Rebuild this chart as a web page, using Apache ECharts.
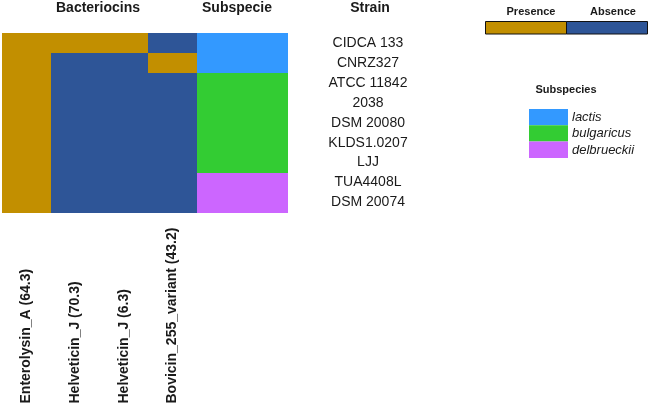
<!DOCTYPE html>
<html><head><meta charset="utf-8">
<script src="https://cdn.jsdelivr.net/npm/echarts@6/dist/echarts.min.js"></script>
<style>html,body{margin:0;padding:0;background:#fff}#c{width:650px;height:407px}</style>
</head><body><div id="c"></div>
<script>
// ---- data ----
var strains = ['CIDCA 133','CNRZ327','ATCC 11842','2038','DSM 20080','KLDS1.0207','LJJ','TUA4408L','DSM 20074'];
var bacteriocins = ['Enterolysin_A (64.3)','Helveticin_J (70.3)','Helveticin_J (6.3)','Bovicin_255_variant (43.2)'];
// presence (1) / absence (0), one array per bacteriocin, in strain order
var enterolysinA = [1,1,1,1,1,1,1,1,1];
var helveticin703 = [1,0,0,0,0,0,0,0,0];
var helveticin63 = [1,0,0,0,0,0,0,0,0];
var bovicin = [0,1,0,0,0,0,0,0,0];
var presenceLabels = ['Presence','Absence'];
var subspeciesNames = ['lactis','bulgaricus','delbrueckii'];
var strainSubspecies = ['lactis','lactis','bulgaricus','bulgaricus','bulgaricus','bulgaricus','bulgaricus','delbrueckii','delbrueckii'];
var subspecieColumn = ['Subspecie'];

// ---- styles ----
var PRES = '#C28F00', ABS = '#2E5597';
var subColors = ['#3399FF','#33CC33','#CC66FF'];
var FONT = 'Liberation Sans, Arial, sans-serif';

var presMatrix = [enterolysinA, helveticin703, helveticin63, bovicin];
var bacData = [];
presMatrix.forEach(function(col, xi){ col.forEach(function(v, yi){ bacData.push([xi, yi, v]); }); });
var subData = strainSubspecies.map(function(s, yi){ return [0, yi, subspeciesNames.indexOf(s)]; });

function cellRender(params, api){
  var c = api.coord([api.value(0), api.value(1)]);
  var s = api.size([1, 1]);
  var x0 = Math.round(c[0]-s[0]/2), x1 = Math.round(c[0]+s[0]/2);
  var y0 = Math.round(c[1]-s[1]/2), y1 = Math.round(c[1]+s[1]/2);
  return {type:'rect', shape:{x:x0, y:y0, width:x1-x0, height:y1-y0},
          style:{fill:api.visual('color')}};
}

var gridTop = 33, gridH = 179.5;
var gfx = [
  {type:'text', x:98, y:8, style:{text:'Bacteriocins', font:'bold 14px '+FONT, fill:'#1a1a1a', textAlign:'center', textVerticalAlign:'middle'}},
  {type:'text', x:237, y:8, style:{text:'Subspecie', font:'bold 14px '+FONT, fill:'#1a1a1a', textAlign:'center', textVerticalAlign:'middle'}},
  {type:'text', x:370, y:8, style:{text:'Strain', font:'bold 14px '+FONT, fill:'#1a1a1a', textAlign:'center', textVerticalAlign:'middle'}},
  {type:'text', x:531, y:12, style:{text:presenceLabels[0], font:'bold 11px '+FONT, fill:'#1a1a1a', textAlign:'center', textVerticalAlign:'middle'}},
  {type:'text', x:613, y:12, style:{text:presenceLabels[1], font:'bold 11px '+FONT, fill:'#1a1a1a', textAlign:'center', textVerticalAlign:'middle'}},
  {type:'rect', shape:{x:485.5, y:21.5, width:81, height:12.5}, style:{fill:PRES, stroke:'#111', lineWidth:1}},
  {type:'rect', shape:{x:566.5, y:21.5, width:81, height:12.5}, style:{fill:ABS, stroke:'#111', lineWidth:1}},
  {type:'text', x:566, y:90, style:{text:'Subspecies', font:'bold 11px '+FONT, fill:'#1a1a1a', textAlign:'center', textVerticalAlign:'middle'}}
];
subspeciesNames.forEach(function(n, i){
  gfx.push({type:'rect', shape:{x:529, y:109+i*16.3, width:39, height:16.3}, style:{fill:subColors[i]}});
  gfx.push({type:'text', x:572, y:109+i*16.3+8.5, style:{text:n, font:'italic 13px '+FONT, fill:'#1a1a1a', textAlign:'left', textVerticalAlign:'middle'}});
});

var chart = echarts.init(document.getElementById('c'), null, {renderer:'canvas'});
chart.setOption({
  backgroundColor:'#fff',
  animation:false,
  grid:[
    {left:2, top:gridTop, width:195, height:gridH},
    {left:197, top:gridTop, width:91, height:gridH}
  ],
  xAxis:[
    {type:'category', gridIndex:0, data:bacteriocins, axisLine:{show:false}, axisTick:{show:false}, splitLine:{show:false},
     axisLabel:{rotate:90, align:'left', margin:191, fontFamily:FONT, fontSize:14, fontWeight:'bold', color:'#1a1a1a', interval:0}},
    {type:'category', gridIndex:1, data:subspecieColumn, axisLine:{show:false}, axisTick:{show:false}, axisLabel:{show:false}}
  ],
  yAxis:[
    {type:'category', gridIndex:0, data:strains, inverse:true, axisLine:{show:false}, axisTick:{show:false}, axisLabel:{show:false}},
    {type:'category', gridIndex:1, data:strains, inverse:true, position:'right', axisLine:{show:false}, axisTick:{show:false},
     axisLabel:{align:'center', margin:80, fontFamily:FONT, fontSize:14, color:'#1a1a1a', interval:0}}
  ],
  visualMap:[
    {type:'piecewise', show:false, seriesIndex:0, dimension:2, pieces:[{value:1, color:PRES},{value:0, color:ABS}]},
    {type:'piecewise', show:false, seriesIndex:1, dimension:2, pieces:[{value:0, color:subColors[0]},{value:1, color:subColors[1]},{value:2, color:subColors[2]}]}
  ],
  series:[
    {type:'custom', xAxisIndex:0, yAxisIndex:0, data:bacData, renderItem:cellRender, encode:{x:0, y:1}, silent:true},
    {type:'custom', xAxisIndex:1, yAxisIndex:1, data:subData, renderItem:cellRender, encode:{x:0, y:1}, silent:true}
  ],
  graphic:gfx
});
</script>
</body></html>
